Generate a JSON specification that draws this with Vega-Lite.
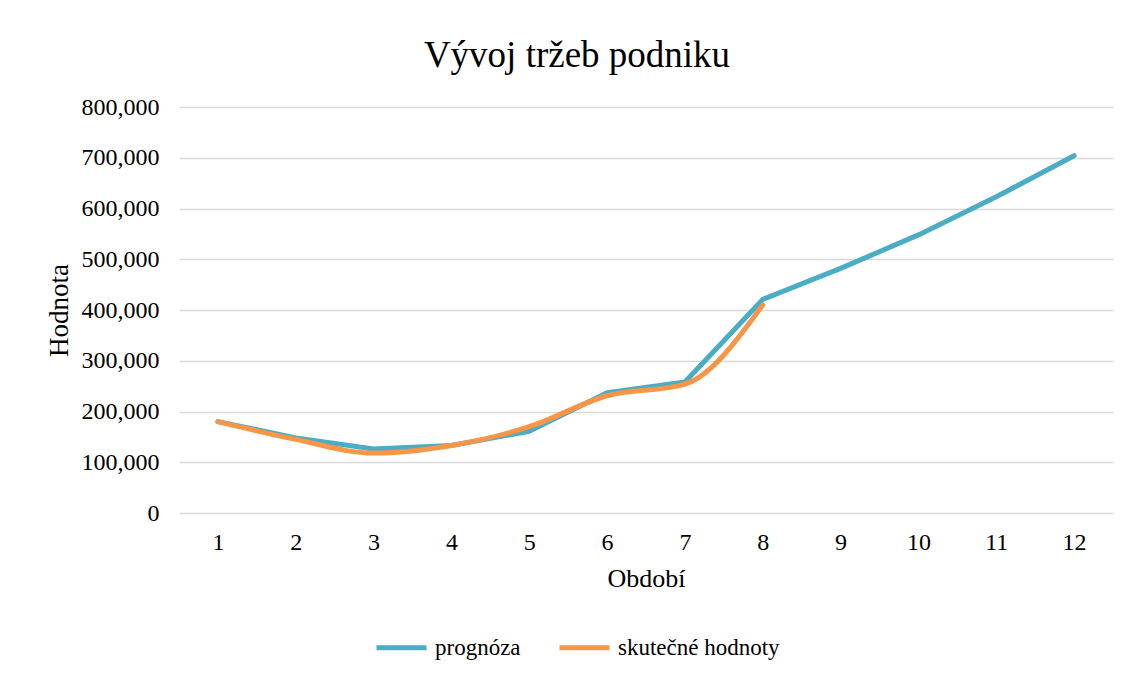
{
  "$schema": "https://vega.github.io/schema/vega-lite/v6.json",
  "width": 934,
  "height": 406,
  "autosize": {"type": "none"},
  "padding": {"left": 179, "top": 107, "right": 20, "bottom": 163},
  "background": "white",
  "title": {
    "text": "Vývoj tržeb podniku",
    "font": "Liberation Serif",
    "fontSize": 37,
    "fontWeight": "normal",
    "color": "#000000",
    "anchor": "middle",
    "frame": "group",
    "dx": -69,
    "offset": 20
  },
  "config": {
    "view": {"stroke": null},
    "font": "Liberation Serif"
  },
  "data": {
    "values": [
      {"obdobi": 1, "serie": "prognóza", "hodnota": 180000},
      {"obdobi": 2, "serie": "prognóza", "hodnota": 148000},
      {"obdobi": 3, "serie": "prognóza", "hodnota": 126000},
      {"obdobi": 4, "serie": "prognóza", "hodnota": 133000},
      {"obdobi": 5, "serie": "prognóza", "hodnota": 161000},
      {"obdobi": 6, "serie": "prognóza", "hodnota": 237000},
      {"obdobi": 7, "serie": "prognóza", "hodnota": 258000},
      {"obdobi": 8, "serie": "prognóza", "hodnota": 421000},
      {"obdobi": 9, "serie": "prognóza", "hodnota": 482000},
      {"obdobi": 10, "serie": "prognóza", "hodnota": 548000},
      {"obdobi": 11, "serie": "prognóza", "hodnota": 623000},
      {"obdobi": 12, "serie": "prognóza", "hodnota": 704000},
      {"obdobi": 1, "serie": "skutečné hodnoty", "hodnota": 180000},
      {"obdobi": 2, "serie": "skutečné hodnoty", "hodnota": 145000},
      {"obdobi": 3, "serie": "skutečné hodnoty", "hodnota": 118000},
      {"obdobi": 4, "serie": "skutečné hodnoty", "hodnota": 133000},
      {"obdobi": 5, "serie": "skutečné hodnoty", "hodnota": 170000},
      {"obdobi": 6, "serie": "skutečné hodnoty", "hodnota": 231000},
      {"obdobi": 7, "serie": "skutečné hodnoty", "hodnota": 254000},
      {"obdobi": 8, "serie": "skutečné hodnoty", "hodnota": 410000}
    ]
  },
  "encoding": {
    "x": {
      "field": "obdobi",
      "type": "ordinal",
      "scale": {"type": "point", "padding": 0.5},
      "axis": {
        "title": "Období",
        "labelAngle": 0,
        "grid": false,
        "domain": false,
        "ticks": false,
        "labelFont": "Liberation Serif",
        "labelFontSize": 24,
        "labelColor": "#000000",
        "labelPadding": 17,
        "titleFont": "Liberation Serif",
        "titleFontSize": 26,
        "titleFontWeight": "normal",
        "titleColor": "#000000",
        "titlePadding": 11
      }
    },
    "y": {
      "field": "hodnota",
      "type": "quantitative",
      "scale": {"domain": [0, 800000], "nice": false},
      "axis": {
        "title": "Hodnota",
        "format": ",.0f",
        "values": [0, 100000, 200000, 300000, 400000, 500000, 600000, 700000, 800000],
        "labelOverlap": false,
        "grid": true,
        "gridColor": "#d9d9d9",
        "gridWidth": 1.5,
        "domain": false,
        "ticks": false,
        "labelFont": "Liberation Serif",
        "labelFontSize": 24,
        "labelColor": "#000000",
        "labelPadding": 20,
        "titleFont": "Liberation Serif",
        "titleFontSize": 27,
        "titleFontWeight": "normal",
        "titleColor": "#000000",
        "titlePadding": 8
      }
    },
    "color": {
      "field": "serie",
      "type": "nominal",
      "scale": {
        "domain": ["prognóza", "skutečné hodnoty"],
        "range": ["#4BACC6", "#F79646"]
      },
      "legend": {
        "title": null,
        "orient": "none",
        "direction": "horizontal",
        "legendX": 195,
        "legendY": 513,
        "symbolType": "stroke",
        "symbolStrokeWidth": 5,
        "symbolSize": 2500,
        "labelFont": "Liberation Serif",
        "labelFontSize": 23,
        "labelColor": "#000000",
        "labelOffset": 6,
        "labelLimit": 400,
        "columnPadding": 28
      }
    }
  },
  "layer": [
    {
      "transform": [{"filter": "datum.serie === 'prognóza'"}],
      "mark": {"type": "line", "strokeWidth": 5, "strokeCap": "round", "strokeJoin": "round"}
    },
    {
      "transform": [{"filter": "datum.serie === 'skutečné hodnoty'"}],
      "mark": {"type": "line", "strokeWidth": 5, "strokeCap": "round", "strokeJoin": "round", "interpolate": "monotone"}
    }
  ]
}
